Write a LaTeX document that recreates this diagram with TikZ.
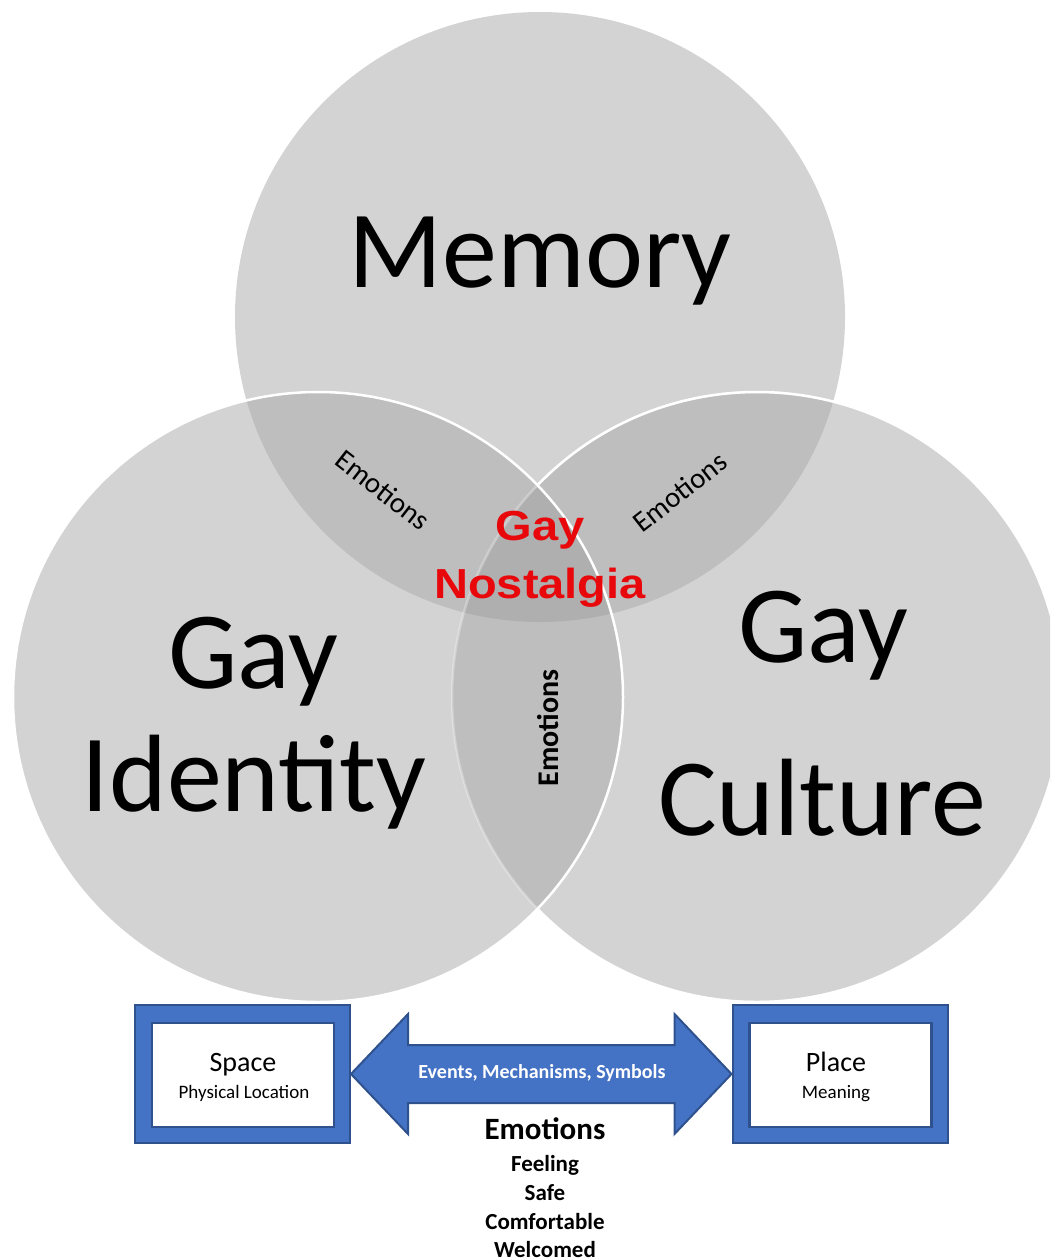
\documentclass[tikz,border=0pt]{standalone}
\usepackage{graphicx}
\usepackage{fontspec}
\newfontfamily\carl{Carlito}
\newfontfamily\arialf{Liberation Sans}
\definecolor{cSingle}{HTML}{D3D3D3}
\definecolor{cDouble}{HTML}{BEBEBE}
\definecolor{cTriple}{HTML}{AFAFAF}
\definecolor{oblue}{HTML}{4472C4}
\definecolor{dblue}{HTML}{2F528F}
\definecolor{nred}{RGB}{232,8,12}
\tikzset{
  bigtxt/.style={anchor=base, inner sep=0pt, font=\carl\fontsize{110}{110}\selectfont},
  emotxt/.style={inner sep=0pt, font=\carl\fontsize{29}{29}\selectfont},
  outerbox/.style={draw=dblue, line width=2pt, fill=oblue, minimum width=215pt, minimum height=138pt, inner sep=0pt},
  innerbox/.style={draw=dblue, line width=2.5pt, fill=white, minimum width=182pt, minimum height=104pt, inner sep=0pt},
  boxmain/.style={anchor=base, inner sep=0pt, font=\carl\fontsize{28}{28}\selectfont},
  boxsub/.style={anchor=base, inner sep=0pt, font=\carl\fontsize{19}{19}\selectfont},
  listtxt/.style={anchor=base, inner sep=0pt, font=\carl\bfseries\fontsize{23}{23}\selectfont},
  ring/.style={white, line width=2.5pt}
}
\begin{document}
\begin{tikzpicture}[x=1pt,y=-1pt]
\useasboundingbox (0,0) rectangle (1050,1260);
\clip (0,0) rectangle (1050,1260);
\def\R{305}
\coordinate (M) at (540,317);
\coordinate (I) at (318,697);
\coordinate (C) at (757,697);
% single fills
\fill[cSingle] (M) circle[radius=\R];
\fill[cSingle] (C) circle[radius=\R];
\fill[cSingle] (I) circle[radius=\R];
% pairwise overlaps
\begin{scope}
  \clip (M) circle[radius=\R];
  \fill[cDouble] (I) circle[radius=\R];
  \fill[cDouble] (C) circle[radius=\R];
\end{scope}
\begin{scope}
  \clip (I) circle[radius=\R];
  \fill[cDouble] (C) circle[radius=\R];
\end{scope}
% triple overlap
\begin{scope}
  \clip (M) circle[radius=\R];
  \clip (I) circle[radius=\R];
  \fill[cTriple] (C) circle[radius=\R];
\end{scope}
% outlines
\draw[ring, opacity=0.3] (C) circle[radius=\R];
\draw[ring] (C) ++(224:\R) arc[start angle=224, end angle=496, radius=\R];
\draw[ring] (I) circle[radius=\R];

% big labels
\node[bigtxt] (memory) at (540,287) {Memory};
\node[bigtxt] (idgay) at (253,688) {Gay};
\node[bigtxt] (identity) at (254,811) {Identity};
\node[bigtxt] (cugay) at (823,662) {Gay};
\node[bigtxt] (culture) at (822,835) {Culture};

% overlap labels
\node[emotxt, rotate=-38] (emoL) at (383,490) {Emotions};
\node[emotxt, rotate=38] (emoR) at (680,492) {Emotions};
\node[emotxt, font=\carl\bfseries\fontsize{30}{30}\selectfont, rotate=90] (emoB) at (548,728) {Emotions};

% centre label
\node[anchor=base, inner sep=0pt, text=nred, font=\arialf\bfseries\fontsize{42}{42}\selectfont] (ngay) at (540,540) {\scalebox{1.12}[1]{Gay}};
\node[anchor=base, inner sep=0pt, text=nred, font=\arialf\bfseries\fontsize{42}{42}\selectfont] (nnost) at (540,598) {\scalebox{1.12}[1]{Nostalgia}};

% bottom boxes
\node[outerbox] (spaceouter) at (242.5,1074) {};
\node[innerbox] (spaceinner) at (243,1075) {};
\node[boxmain] (space) at (243,1071) {Space};
\node[boxsub] (physloc) at (244,1098) {Physical Location};

\node[outerbox] (placeouter) at (840,1074) {};
\node[innerbox] (placeinner) at (840.5,1075) {};
\node[boxmain] (place) at (836,1071) {Place};
\node[boxsub] (meaning) at (836,1098) {Meaning};

% double arrow between boxes
\coordinate (AL) at (spaceouter.east);
\coordinate (AR) at (placeouter.west);
\draw[draw=dblue, line width=2pt, fill=oblue, line join=miter]
  (AL) -- ([shift={(57,-60)}]AL) -- ([shift={(57,-29)}]AL)
  -- ([shift={(-57,-29)}]AR) -- ([shift={(-57,-60)}]AR) -- (AR)
  -- ([shift={(-57,60)}]AR) -- ([shift={(-57,29)}]AR)
  -- ([shift={(57,29)}]AL) -- ([shift={(57,60)}]AL) -- cycle;
\node[anchor=base, inner sep=0pt, text=white, font=\carl\bfseries\fontsize{20}{20}\selectfont] (ems) at (542,1078) {Events, Mechanisms, Symbols};

% emotions list
\node[anchor=base, inner sep=0pt, font=\carl\bfseries\fontsize{31}{31}\selectfont] (emohead) at (545,1139) {Emotions};
\node[listtxt] (feeling) at (545,1171) {Feeling};
\node[listtxt] (safe) at (545,1200) {Safe};
\node[listtxt] (comfortable) at (545,1229) {Comfortable};
\node[listtxt] (welcomed) at (545,1257) {Welcomed};
\end{tikzpicture}
\end{document}
